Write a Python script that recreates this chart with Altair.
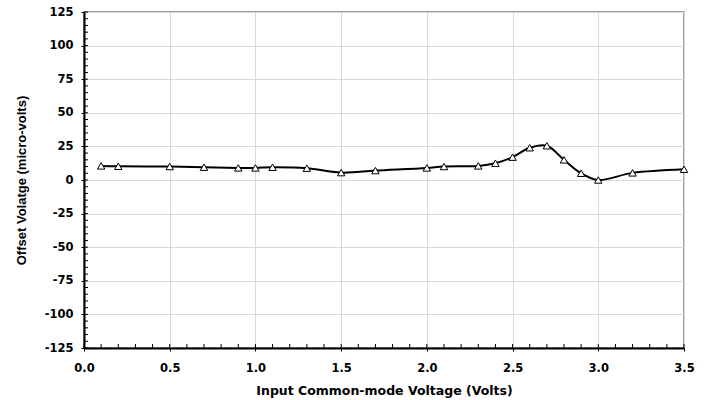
import altair as alt
import pandas as pd

voltage = [0.1, 0.2, 0.5, 0.7, 0.9, 1.0, 1.1, 1.3, 1.5, 1.7, 2.0, 2.1, 2.3, 2.4, 2.5, 2.6, 2.7, 2.8, 2.9, 3.0, 3.2, 3.5]
offset = [10.5, 10.2, 10.0, 9.5, 9.0, 9.0, 9.5, 8.8, 5.5, 7.0, 9.0, 10.0, 10.5, 12.5, 17.0, 24.0, 25.5, 15.0, 5.0, 0.0, 5.3, 8.0]

x_major = [0.0, 0.5, 1.0, 1.5, 2.0, 2.5, 3.0, 3.5]
y_major = [-125, -100, -75, -50, -25, 0, 25, 50, 75, 100, 125]
x_minor = [round(i * 0.1, 1) for i in range(0, 36)]
y_minor = list(range(-125, 126, 5))

df = pd.DataFrame({"v": voltage, "o": offset})
df_xt = pd.DataFrame({"v": x_minor})
df_yt = pd.DataFrame({"o": y_minor})

LABEL_FONT = "DejaVu Sans"
TITLE_FONT_X = "DejaVu Sans"
TITLE_FONT_Y = "Liberation Sans"

x_enc = alt.X(
    "v:Q",
    scale=alt.Scale(domain=[0, 3.5], nice=False, zero=False),
    axis=alt.Axis(
        title="Input Common-mode Voltage (Volts)",
        values=x_major,
        format=".1f",
        labelOverlap=False,
        labelFlush=False,
        tickSize=3,
        labelPadding=11,
        titlePadding=11,
        titleFont=TITLE_FONT_X,
        titleFontSize=12.5,
    ),
)
y_enc = alt.Y(
    "o:Q",
    scale=alt.Scale(domain=[-125, 125], nice=False, zero=False),
    axis=alt.Axis(
        title="Offset Volatge (micro-volts)",
        values=y_major,
        labelExpr="datum.value + ''",
        labelOverlap=False,
        labelFlush=False,
        tickSize=3,
        labelPadding=8,
        titlePadding=16,
        titleFont=TITLE_FONT_Y,
        titleFontSize=13,
    ),
)

xticks = alt.Chart(df_xt).mark_rule(color="black", strokeWidth=1).encode(
    x=x_enc, y=alt.value(336), y2=alt.value(332)
)
yticks = alt.Chart(df_yt).mark_rule(color="black", strokeWidth=1).encode(
    y=y_enc, x=alt.value(0), x2=alt.value(4)
)
line = alt.Chart(df).mark_line(color="black", strokeWidth=2, interpolate="catmull-rom").encode(x=x_enc, y=y_enc)
pts = alt.Chart(df).mark_point(shape="triangle-up", filled=True, fill="white", stroke="black", strokeWidth=1, size=55, opacity=1).encode(x=x_enc, y=y_enc)

chart = (xticks + yticks + line + pts).properties(
    width=600,
    height=336,
    autosize=alt.AutoSizeParams(type="none"),
    padding={"left": 84, "top": 12, "right": 26, "bottom": 52},
    background="white",
).configure_view(stroke="#7f7f7f", strokeWidth=1.5).configure_axis(
    labelFont=LABEL_FONT,
    labelFontSize=11.5,
    labelFontWeight="bold",
    labelColor="black",
    titleFontWeight="bold",
    titleColor="black",
    domainColor="black",
    domainWidth=2,
    tickColor="black",
    tickWidth=1,
    gridColor="#d9d9d9",
    gridWidth=1,
)

chart.save("out.html", embed_options={"renderer": "svg", "actions": False})
